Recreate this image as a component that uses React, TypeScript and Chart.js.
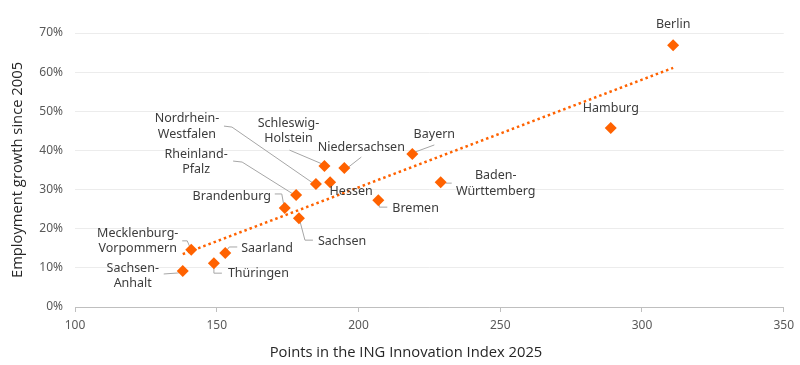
import { useEffect, useRef } from 'react';
import { Chart, registerables } from 'chart.js';

Chart.register(...registerables);

// ---- Data ----
const regions = [
  'Berlin',
  'Hamburg',
  'Bayern',
  'Baden-Württemberg',
  'Bremen',
  'Niedersachsen',
  'Schleswig-Holstein',
  'Hessen',
  'Nordrhein-Westfalen',
  'Rheinland-Pfalz',
  'Brandenburg',
  'Sachsen',
  'Mecklenburg-Vorpommern',
  'Saarland',
  'Thüringen',
  'Sachsen-Anhalt',
];
const innovationIndex = [311, 289, 219, 229, 207, 195, 188, 190, 185, 178, 174, 179, 141, 153, 149, 138];
const employmentGrowth = [66.9, 45.7, 39.1, 31.9, 27.3, 35.5, 36.0, 31.9, 31.4, 28.6, 25.3, 22.7, 14.6, 13.8, 11.2, 9.2];
const trendX = [138, 311];
const trendY = [13.5, 61.1];
const xTickValues = [100, 150, 200, 250, 300, 350];
const yTickValues = [0, 10, 20, 30, 40, 50, 60, 70];
const xTitle = 'Points in the ING Innovation Index 2025';
const yTitle = 'Employment growth since 2005';

// ---- Label layout (pixel offsets relative to each marker) ----
type LabelLayout = {
  wrap: boolean;
  dx: number;
  dy: number;
  align: 'center' | 'left';
  leader?: [number, number][];
};
const labelLayout: LabelLayout[] = [
  { wrap: false, dx: 0, dy: -21, align: 'center' },
  { wrap: false, dx: 0, dy: -20, align: 'center' },
  { wrap: false, dx: 22, dy: -20, align: 'center', leader: [[3, -2], [22, -9]] },
  { wrap: true, dx: 55, dy: 1.5, align: 'center', leader: [[5, 1], [11, 1]] },
  { wrap: false, dx: 14, dy: 8, align: 'left', leader: [[1, 4], [1, 7], [9, 7]] },
  { wrap: false, dx: 17, dy: -21, align: 'center', leader: [[3, 0], [17, -11]] },
  { wrap: true, dx: -36, dy: -35, align: 'center', leader: [[-35, -16], [-2, -2]] },
  { wrap: false, dx: 21, dy: 9, align: 'center' },
  { wrap: true, dx: -129, dy: -57.5, align: 'center', leader: [[-92, -58], [-84, -57], [-3, -1]] },
  { wrap: true, dx: -100, dy: -33, align: 'center', leader: [[-63, -34], [-54, -33], [-3, -1]] },
  { wrap: false, dx: -53, dy: -12, align: 'center', leader: [[-10, -14], [-3, -14], [-1, -3]] },
  { wrap: false, dx: 19, dy: 23, align: 'left', leader: [[1, 3], [6, 22], [14, 22]] },
  { wrap: true, dx: -53.5, dy: -9, align: 'center', leader: [[-9, -9], [-4, -9], [-1, -2]] },
  { wrap: false, dx: 16, dy: -5, align: 'left', leader: [[1, -2], [4, -6], [12, -6]] },
  { wrap: false, dx: 14, dy: 10, align: 'left', leader: [[0, 3], [0, 10], [8, 10]] },
  { wrap: true, dx: -50, dy: 5, align: 'center', leader: [[-19, 3], [-5, 2], [-1, 1]] },
];

const ORANGE = '#FF6200';
const LABEL_FONT = '12.5px "Noto Sans"';
const TITLE_FONT = '14.75px "Open Sans"';
const LINE_H = 15.5;

const labelPlugin = {
  id: 'regionLabels',
  beforeDatasetsDraw(chart: any) {
    const ctx = chart.ctx;
    const meta = chart.getDatasetMeta(0);
    ctx.save();
    ctx.strokeStyle = '#a6a6a6';
    ctx.lineWidth = 1;
    meta.data.forEach((pt: any, i: number) => {
      const l = labelLayout[i];
      if (!l || !l.leader) return;
      ctx.beginPath();
      l.leader.forEach(([ox, oy], j) => {
        const x = pt.x + ox;
        const y = pt.y + oy;
        if (j === 0) ctx.moveTo(x, y);
        else ctx.lineTo(x, y);
      });
      ctx.stroke();
    });
    ctx.restore();
  },
  afterDatasetsDraw(chart: any) {
    const ctx = chart.ctx;
    const meta = chart.getDatasetMeta(0);
    ctx.save();
    ctx.fillStyle = '#3c3c3c';
    ctx.font = LABEL_FONT;
    ctx.textBaseline = 'middle';
    meta.data.forEach((pt: any, i: number) => {
      const l = labelLayout[i];
      const name = regions[i];
      const lines = l.wrap ? name.replace('-', '-\n').split('\n') : [name];
      ctx.textAlign = l.align;
      const y0 = pt.y + l.dy - ((lines.length - 1) * LINE_H) / 2;
      lines.forEach((t, k) => ctx.fillText(t, pt.x + l.dx, y0 + k * LINE_H));
    });
    ctx.restore();
  },
  afterDraw(chart: any) {
    const ctx = chart.ctx;
    const ca = chart.chartArea;
    ctx.save();
    ctx.fillStyle = '#262626';
    ctx.font = TITLE_FONT;
    ctx.textAlign = 'center';
    ctx.textBaseline = 'middle';
    ctx.fillText(xTitle, 406, 353);
    ctx.translate(18, (ca.top + ca.bottom) / 2);
    ctx.rotate(-Math.PI / 2);
    ctx.fillText(yTitle, 0, 0);
    ctx.restore();
  },
};

export default function App() {
  const ref = useRef<HTMLCanvasElement | null>(null);
  useEffect(() => {
    if (!ref.current) return;
    const chart = new Chart(ref.current, {
      type: 'scatter',
      data: {
        datasets: [
          {
            label: 'Regions',
            data: innovationIndex.map((x, i) => ({ x, y: employmentGrowth[i] })),
            pointStyle: 'rectRot',
            pointRadius: 6,
            pointHoverRadius: 6,
            backgroundColor: ORANGE,
            borderColor: ORANGE,
            borderWidth: 0,
            order: 1,
          },
          {
            type: 'line',
            label: 'Trend',
            data: trendX.map((x, i) => ({ x, y: trendY[i] })),
            borderColor: ORANGE,
            borderWidth: 2.5,
            borderDash: [2.5, 3],
            pointRadius: 0,
            fill: false,
            order: 2,
          } as any,
        ],
      },
      options: {
        animation: false,
        responsive: true,
        maintainAspectRatio: false,
        layout: { padding: { top: 33, right: 16, left: 0, bottom: 0 } },
        plugins: {
          legend: { display: false },
          tooltip: { enabled: false },
        },
        scales: {
          x: {
            type: 'linear',
            min: xTickValues[0],
            max: xTickValues[xTickValues.length - 1],
            afterBuildTicks: (s: any) => {
              s.ticks = xTickValues.map((v) => ({ value: v }));
            },
            afterFit: (s: any) => {
              s.height = 58;
            },
            grid: {
              display: true,
              drawOnChartArea: false,
              drawTicks: true,
              tickLength: 5,
              color: '#bfbfbf',
            },
            border: { display: true, color: '#bfbfbf', width: 1 },
            ticks: {
              padding: 6,
              color: '#595959',
              font: { family: 'Noto Sans', size: 12 },
              maxRotation: 0,
            },
          },
          y: {
            type: 'linear',
            min: yTickValues[0],
            max: yTickValues[yTickValues.length - 1],
            afterBuildTicks: (s: any) => {
              s.ticks = yTickValues.map((v) => ({ value: v }));
            },
            afterFit: (s: any) => {
              s.width = 75;
            },
            grid: {
              drawTicks: false,
              color: (c: any) => (c.tick && c.tick.value === 0 ? '#bfbfbf' : '#ececec'),
              lineWidth: 1,
            },
            border: { display: false },
            ticks: {
              padding: 12,
              color: '#595959',
              font: { family: 'Noto Sans', size: 12 },
              callback: (v: any) => `${v}%`,
            },
          },
        },
      },
      plugins: [labelPlugin],
    });
    return () => chart.destroy();
  }, []);
  return (
    <div style={{ position: 'fixed', left: 0, top: 0, width: 800, height: 365, background: '#fff' }}>
      <canvas ref={ref} />
    </div>
  );
}
